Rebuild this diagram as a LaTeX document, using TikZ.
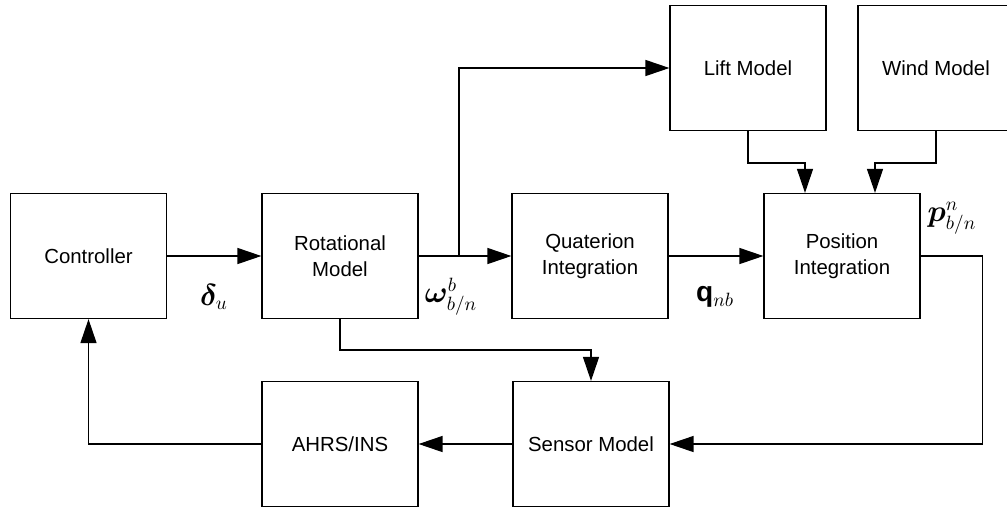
\documentclass[tikz,border=0pt]{standalone}
\usepackage{fontspec}
\usepackage{amsmath,bm}
\setmainfont{Liberation Sans}
\usetikzlibrary{calc,arrows.meta}
\tikzset{
  block/.style={draw, line width=0.7pt, minimum width=3.12cm, minimum height=2.5cm,
    inner sep=0pt, align=center, font=\fontsize{11.6}{15}\selectfont},
  flow/.style={line width=0.7pt, -{Triangle[length=0.48cm,width=0.32cm]}},
  sig/.style={font=\fontsize{16}{18}\selectfont}
}
\begin{document}
\begin{tikzpicture}[x=0.02cm, y=-0.02cm]
		%%%%% START %%%%%
		\useasboundingbox (0,0) rectangle (1007,508);
		
		\node[block] (ctrl) at (88.5, 256) {Controller};
		\node[block] (rot) at (340, 256) {Rotational\\Model};
		\node[block] (quat) at (590, 256) {Quaterion\\Integration};
		\node[block] (pos) at (842, 256) {Position\\Integration};
		
		\node[block] (lift) at (748, 68) {Lift Model};
		\node[block] (wind) at (936, 68) {Wind Model};
		
		\node[block] (ahrs) at (340, 444) {AHRS/INS};
		\node[block] (sensor) at (591, 444) {Sensor Model};
		
		% forward path
		\draw[flow] (ctrl) -- (rot);
		\draw[flow] (rot) -- (quat);
		\draw[flow] (quat) -- (pos);
		
		\coordinate (junc) at (459, 256);
		\draw[flow] (junc) |- (lift.west);
		
		\draw[flow] (lift.south) -- ++(0,32) -| ($(pos.north)+(-37,0)$);
		\draw[flow] (wind.south) -- ++(0,32) -| ($(pos.north)+(33,0)$);
		
		% feedback
		\draw[flow] (rot.south) -- ++(0,31) -| (sensor.north);
		\draw[flow] (pos.east) -- ++(62,0) |- (sensor.east);
		\draw[flow] (sensor) -- (ahrs);
		\draw[flow] (ahrs.west) -| (ctrl.south);
		
		% signals
		\node[sig] (du) at (214, 297) {$\bm{\delta}_u$};
		\node[sig] (wbn) at (451, 297) {$\bm{\omega}^{b}_{b/n}$};
		\node[sig] (qnb) at (715, 297) {$\mathbf{q}_{nb}$};
		\node[sig] (pbn) at (952, 218) {$\bm{p}^{n}_{b/n}$};
		
		%%%%% END %%%%%
	\end{tikzpicture}
\end{document}
